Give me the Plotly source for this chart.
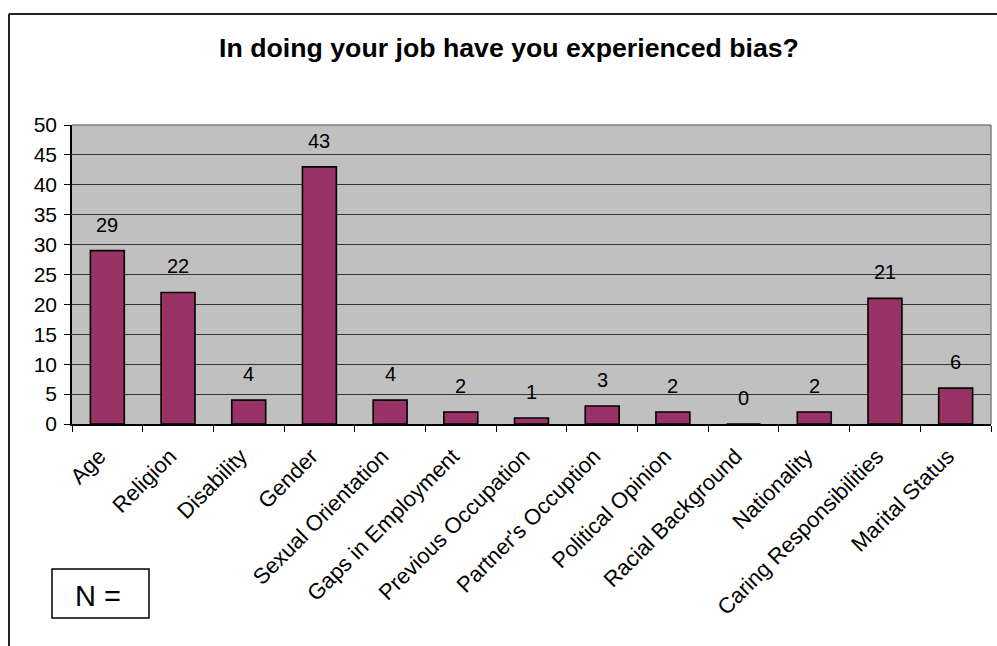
import plotly.graph_objects as go

# Survey responses: types of bias experienced at work
categories = [
    "Age", "Religion", "Disability", "Gender", "Sexual Orientation",
    "Gaps in Employment", "Previous Occupation", "Partner's Occuption",
    "Political Opinion", "Racial Background", "Nationality",
    "Caring Responsibilities", "Marital Status",
]
counts = [29, 22, 4, 43, 4, 2, 1, 3, 2, 0, 2, 21, 6]
y_ticks = [0, 5, 10, 15, 20, 25, 30, 35, 40, 45, 50]

FONT = "Arial, Liberation Sans, sans-serif"
W, H = 997, 646
L, R, T, B = 72, 6, 125, 222
PW, PH = W - L - R, H - T - B


def px_x(x):
    return (x - L) / PW


def px_y(y):
    return (H - B - y) / PH


fig = go.Figure()
fig.add_trace(go.Bar(
    x=categories,
    y=counts,
    marker=dict(color="#993366", line=dict(color="#000000", width=1.6)),
    width=0.48,
    hoverinfo="x+y",
))

# value labels above each bar
for cat, val in zip(categories, counts):
    fig.add_annotation(
        x=cat, y=val, text=str(val), showarrow=False,
        yanchor="bottom", yshift=13,
        font=dict(family=FONT, size=20, color="#000000"),
    )

# "N =" box in the lower-left corner
fig.add_shape(type="rect", xref="paper", yref="paper",
              x0=px_x(52), x1=px_x(149), y0=px_y(618), y1=px_y(569),
              line=dict(color="#000000", width=1.5), fillcolor="white")
fig.add_annotation(xref="paper", yref="paper", x=px_x(98), y=px_y(596),
                   text="N =", showarrow=False, xanchor="center", yanchor="middle",
                   font=dict(family=FONT, size=29, color="#000000"))

# chart frame (top and left edges)
fig.add_shape(type="line", xref="paper", yref="paper",
              x0=px_x(9), x1=px_x(1000), y0=px_y(14), y1=px_y(14),
              line=dict(color="#222222", width=2))
fig.add_shape(type="line", xref="paper", yref="paper",
              x0=px_x(9), x1=px_x(9), y0=px_y(14), y1=px_y(650),
              line=dict(color="#222222", width=2))

# plot-area border on the top and right sides
fig.add_shape(type="line", xref="paper", yref="paper",
              x0=0, x1=1, y0=1, y1=1, line=dict(color="#808080", width=1.5))
fig.add_shape(type="line", xref="paper", yref="paper",
              x0=1, x1=1, y0=0, y1=1, line=dict(color="#808080", width=1.5))

fig.update_layout(
    width=W, height=H,
    margin=dict(l=L, r=R, t=T, b=B, autoexpand=False),
    paper_bgcolor="white",
    plot_bgcolor="#C0C0C0",
    showlegend=False,
    title=dict(
        text="<b>In doing your job have you experienced bias?</b>",
        xref="paper", x=px_x(509), xanchor="center",
        yref="container", y=1 - 48 / H, yanchor="middle",
        font=dict(family=FONT, size=26.7, color="#000000"),
    ),
    bargap=0.52,
)

fig.update_yaxes(
    range=[0, 50], tickvals=y_ticks, ticktext=[str(v) for v in y_ticks],
    showgrid=True, gridcolor="#333333", gridwidth=1,
    showline=True, linecolor="#000000", linewidth=1.5,
    ticks="outside", ticklen=6, tickcolor="#000000", tickwidth=1,
    tickfont=dict(family=FONT, size=21, color="#000000"),
    ticklabelstandoff=3,
    zeroline=False, fixedrange=True,
)
fig.update_xaxes(
    type="category", tickangle=-45, tickson="boundaries",
    showline=True, linecolor="#000000", linewidth=1.5,
    ticks="outside", ticklen=6, tickcolor="#000000", tickwidth=1,
    tickfont=dict(family=FONT, size=22, color="#000000"),
    ticklabelstandoff=9, ticklabelshift=-8,
    showgrid=False, fixedrange=True,
)

fig.write_html("out.html")
